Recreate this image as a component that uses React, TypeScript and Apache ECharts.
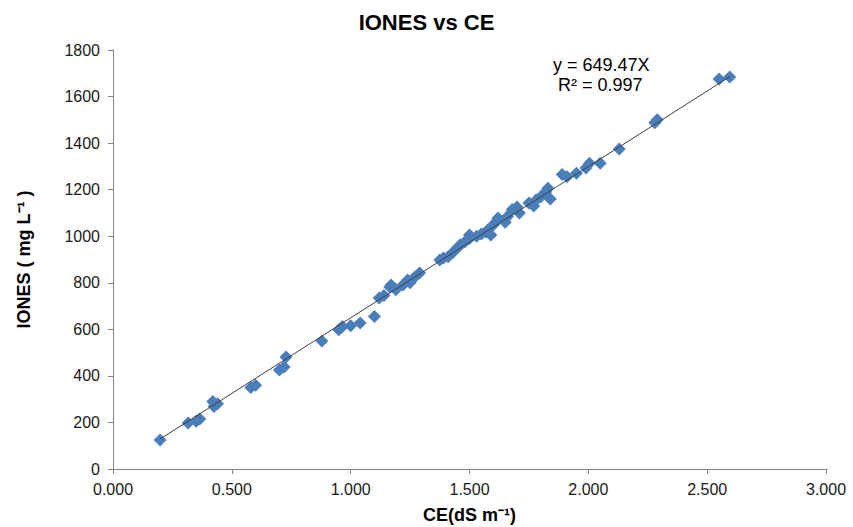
import React, { useEffect, useRef } from "react";
import * as echarts from "echarts";

const ceValues = [
  0.198, 0.316, 0.35, 0.365, 0.42, 0.44, 0.425, 0.58, 0.6, 0.7, 0.72, 0.728, 0.879,
  0.95, 0.965, 1.0, 1.04, 1.1, 1.12, 1.14, 1.165, 1.19, 1.17, 1.22, 1.25, 1.24, 1.27,
  1.29, 1.375, 1.39, 1.41, 1.43, 1.45, 1.46, 1.48, 1.5, 1.5, 1.53, 1.55, 1.57, 1.58,
  1.6, 1.59, 1.61, 1.62, 1.65, 1.66, 1.68, 1.7, 1.71, 1.75, 1.77, 1.78, 1.8, 1.82,
  1.83, 1.84, 1.89, 1.91, 1.95, 1.99, 2.005, 2.05, 2.13, 2.28, 2.29, 2.55, 2.595,
];
const ionesValues = [
  125, 198, 205, 215, 290, 280, 268, 350, 360, 425, 438, 481, 550,
  598, 612, 615, 627, 655, 735, 745, 782, 770, 790, 790, 800, 812, 825,
  842, 898, 906, 912, 930, 950, 962, 975, 990, 1005, 1000, 1010, 1018, 1030,
  1048, 1005, 1060, 1078, 1060, 1085, 1115, 1126, 1100, 1143, 1130, 1156, 1170, 1190,
  1206, 1160, 1265, 1255, 1270, 1293, 1314, 1314, 1375, 1488, 1500, 1675, 1684,
];
const slope = 649.47;
const r2Text = "R² = 0.997";
const eqText = "y = 649.47X";
const xTicks = [0, 0.5, 1, 1.5, 2, 2.5, 3];
const yTicks = [0, 200, 400, 600, 800, 1000, 1200, 1400, 1600, 1800];

export default function App() {
  const ref = useRef<HTMLDivElement>(null);
  useEffect(() => {
    if (!ref.current) return;
    const chart = echarts.init(ref.current, null, { renderer: "svg" });
    const points = ceValues.map((x, i) => [x, ionesValues[i]]);
    const xmin = Math.min(...ceValues);
    const xmax = Math.max(...ceValues);
    const trend = [
      [xmin, slope * xmin],
      [xmax, slope * xmax],
    ];
    const font = "Liberation Sans, Arial, sans-serif";
    chart.setOption({
      animation: false,
      backgroundColor: "#ffffff",
      title: {
        text: "IONES vs CE",
        left: "center",
        top: 6,
        textStyle: { fontFamily: font, fontSize: 22, fontWeight: "bold", color: "#000" },
      },
      grid: { left: 113, right: 27, top: 50, bottom: 58, outerBoundsMode: "none", containLabel: false },
      xAxis: {
        type: "value",
        min: xTicks[0],
        max: xTicks[xTicks.length - 1],
        interval: 0.5,
        name: "CE(dS m⁻¹)",
        nameLocation: "middle",
        nameGap: 37,
        nameTextStyle: { fontFamily: font, fontSize: 18, fontWeight: "bold", color: "#000" },
        axisLine: { show: true, lineStyle: { color: "#868686" } },
        axisTick: { show: true, inside: false, length: 5, lineStyle: { color: "#868686" } },
        splitLine: { show: false },
        axisLabel: {
          margin: 12,
          fontFamily: font,
          fontSize: 16,
          color: "#1a1a1a",
          formatter: (v: number) => v.toFixed(3),
        },
      },
      yAxis: {
        type: "value",
        min: yTicks[0],
        max: yTicks[yTicks.length - 1],
        interval: 200,
        name: "IONES ( mg L⁻¹ )",
        nameLocation: "middle",
        nameGap: 80,
        nameRotate: 90,
        nameTextStyle: { fontFamily: font, fontSize: 18, fontWeight: "bold", color: "#000" },
        axisLine: { show: true, lineStyle: { color: "#868686" } },
        axisTick: { show: true, inside: false, length: 5, lineStyle: { color: "#868686" } },
        splitLine: { show: false },
        axisLabel: {
          margin: 13,
          fontFamily: font,
          fontSize: 16,
          color: "#1a1a1a",
          formatter: (v: number) => String(v),
        },
      },
      series: [
        {
          type: "scatter",
          data: points,
          symbol: "diamond",
          symbolSize: 13,
          itemStyle: { color: "#4a7ebb", opacity: 1 },
          z: 2,
        },
        {
          type: "line",
          data: trend,
          symbol: "none",
          lineStyle: { color: "#404040", width: 1 },
          z: 3,
        },
      ],
      graphic: [
        {
          type: "text",
          left: 553,
          top: 56,
          style: { text: eqText, font: `18px ${font}`, fill: "#000" },
        },
        {
          type: "text",
          left: 558,
          top: 76,
          style: { text: r2Text, font: `18px ${font}`, fill: "#000" },
        },
      ],
    });
    return () => chart.dispose();
  }, []);
  return (
    <div
      ref={ref}
      style={{ position: "fixed", left: 0, top: 0, width: 853, height: 527 }}
    />
  );
}
